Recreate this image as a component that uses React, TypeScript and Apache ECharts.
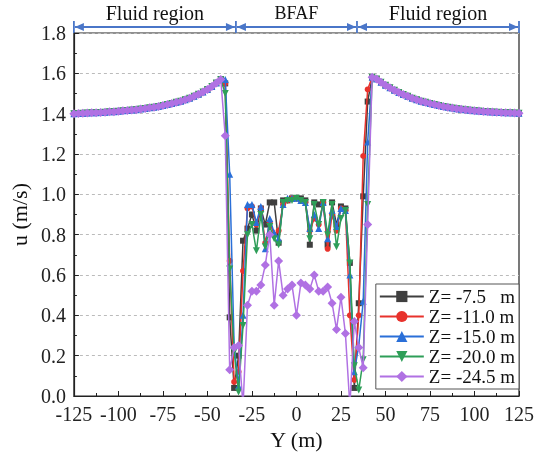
import React, { useEffect, useRef } from "react";
import * as echarts from "echarts";

const FONT = "Liberation Serif";

// Sampling positions (m)
const POS_LEFT = [-125, -122.5, -120, -117.5, -115, -112.5, -110, -107.5, -105, -102.5, -100, -97.5, -95, -92.5, -90, -87.5, -85, -82.5, -80, -77.5, -75, -72.5, -70, -67.5, -65, -62.5, -60, -57.5, -55, -52.5, -50, -47.5, -45, -42.5];
const POS_BFAF = [-40, -37.5, -35, -32.5, -30, -27.5, -25, -22.5, -20, -17.5, -15, -12.5, -10, -7.5, -5, -2.5, 0, 2.5, 5, 7.5, 10, 12.5, 15, 17.5, 20, 22.5, 25, 27.5, 30, 32.5, 35, 37.5, 40];
const POS_RIGHT = [42.5, 45, 47.5, 50, 52.5, 55, 57.5, 60, 62.5, 65, 67.5, 70, 72.5, 75, 77.5, 80, 82.5, 85, 87.5, 90, 92.5, 95, 97.5, 100, 102.5, 105, 107.5, 110, 112.5, 115, 117.5, 120, 122.5, 125];

// Fluid-region velocities (shared by all depths)
const FLUID_LEFT = [1.400, 1.401, 1.402, 1.403, 1.404, 1.405, 1.406, 1.407, 1.409, 1.410, 1.412, 1.414, 1.416, 1.418, 1.420, 1.423, 1.426, 1.429, 1.432, 1.436, 1.440, 1.445, 1.450, 1.456, 1.462, 1.469, 1.477, 1.486, 1.496, 1.507, 1.520, 1.535, 1.552, 1.570];
const FLUID_RIGHT = [1.580, 1.572, 1.556, 1.541, 1.528, 1.516, 1.505, 1.495, 1.486, 1.477, 1.469, 1.462, 1.456, 1.450, 1.445, 1.440, 1.436, 1.432, 1.428, 1.425, 1.422, 1.419, 1.417, 1.415, 1.413, 1.411, 1.409, 1.408, 1.407, 1.406, 1.405, 1.404, 1.403, 1.402];

// BFAF-region velocities per depth
const BFAF_Z75 = [1.55, 0.39, 0.04, 0.20, 0.77, 0.83, 0.90, 0.82, 0.93, 0.85, 0.96, 0.96, 0.76, 0.97, 0.97, 0.98, 0.98, 0.98, 0.97, 0.75, 0.96, 0.95, 0.96, 0.75, 0.96, 0.85, 0.94, 0.93, 0.66, 0.04, 0.46, 0.99, 1.46];
const BFAF_Z110 = [1.55, 0.67, 0.07, 0.12, 0.62, 0.93, 0.94, 0.85, 0.93, 0.76, 0.86, 0.80, 0.82, 0.95, 0.97, 0.98, 0.98, 0.97, 0.96, 0.82, 0.88, 0.85, 0.96, 0.73, 0.90, 0.82, 0.93, 0.92, 0.40, 0.08, 0.40, 1.19, 1.52];
const BFAF_Z150 = [1.57, 1.10, 0.25, 0.05, 0.40, 0.95, 0.95, 0.86, 0.94, 0.73, 0.88, 0.81, 0.78, 0.95, 0.98, 0.98, 0.98, 0.97, 0.96, 0.83, 0.90, 0.83, 0.96, 0.78, 0.92, 0.84, 0.93, 0.92, 0.60, 0.12, 0.25, 0.47, 1.26];
const BFAF_Z200 = [1.50, 0.63, 0.22, 0.02, 0.35, 0.80, 0.85, 0.72, 0.90, 0.74, 0.84, 0.78, 0.75, 0.96, 0.97, 0.97, 0.98, 0.97, 0.96, 0.78, 0.95, 0.85, 0.96, 0.80, 0.95, 0.74, 0.88, 0.92, 0.66, 0.15, 0.03, 0.18, 0.95];
const BFAF_Z245 = [1.29, 0.13, 0.24, 0.25, -0.05, 0.45, 0.52, 0.52, 0.55, 0.65, 0.80, 0.45, 0.67, 0.50, 0.53, 0.55, 0.40, 0.56, 0.55, 0.53, 0.60, 0.52, 0.52, 0.54, 0.46, 0.33, 0.49, 0.31, -0.05, 0.37, 0.24, 0.14, 0.85];

const SERIES_NAMES = ["Z= -7.5\u00a0\u00a0 m", "Z= -11.0 m", "Z= -15.0 m", "Z= -20.0 m", "Z= -24.5 m"];
const SERIES_BFAF = [BFAF_Z75, BFAF_Z110, BFAF_Z150, BFAF_Z200, BFAF_Z245];
const COLORS = ["#3f3f3f", "#e8322c", "#2a6fd8", "#2e9e58", "#b071e3"];
const SYMBOLS = ["rect", "circle", "triangle", "triangle", "diamond"];
const SYMBOL_ROT = [0, 0, 0, 180, 0];
const SYMBOL_SIZE = [6, 6, 7, 7, 9];

// Annotation bands
const BOUNDS = [-125, -34, 34, 125];
const REGION_LABELS = ["Fluid region", "BFAF", "Fluid region"];

const X_TICKS = { min: -125, max: 125, interval: 25 };
const Y_TICKS = { min: 0, max: 1.8, interval: 0.2 };

function buildData(bfaf: number[]) {
  const out: number[][] = [];
  POS_LEFT.forEach((p, i) => out.push([p, FLUID_LEFT[i]]));
  POS_BFAF.forEach((p, i) => out.push([p, bfaf[i]]));
  POS_RIGHT.forEach((p, i) => out.push([p, FLUID_RIGHT[i]]));
  return out;
}

export default function App() {
  const ref = useRef<HTMLDivElement>(null);
  useEffect(() => {
    if (!ref.current) return;
    const chart = echarts.init(ref.current, null, { renderer: "svg" });
    const axisColor = "#222";
    const option: any = {
      animation: false,
      textStyle: { fontFamily: FONT },
      grid: { left: 70, right: 18, top: 33, bottom: 61, show: true, borderColor: axisColor, borderWidth: 1.2, backgroundColor: "transparent" },
      xAxis: {
        type: "value",
        min: X_TICKS.min,
        max: X_TICKS.max,
        interval: X_TICKS.interval,
        name: "Y (m)",
        nameLocation: "middle",
        nameGap: 30,
        nameTextStyle: { fontSize: 22, color: "#111", fontFamily: FONT },
        axisLine: { onZero: false, lineStyle: { color: axisColor, width: 1.2 } },
        axisTick: { inside: true, length: 5, lineStyle: { color: axisColor } },
        minorTick: { show: true, splitNumber: 2, length: 3, lineStyle: { color: axisColor } },
        axisLabel: { fontSize: 20, color: "#222", margin: 8, fontFamily: FONT },
        splitLine: { show: false },
      },
      yAxis: {
        type: "value",
        min: Y_TICKS.min,
        max: Y_TICKS.max,
        interval: Y_TICKS.interval,
        name: "u (m/s)",
        nameLocation: "middle",
        nameGap: 42,
        nameTextStyle: { fontSize: 22, color: "#111", fontFamily: FONT },
        axisLine: { onZero: false, lineStyle: { color: axisColor, width: 1.2 } },
        axisTick: { inside: true, length: 5, lineStyle: { color: axisColor } },
        minorTick: { show: true, splitNumber: 2, length: 3, lineStyle: { color: axisColor } },
        axisLabel: { fontSize: 20, color: "#222", margin: 8, fontFamily: FONT, formatter: (v: number) => v.toFixed(1) },
        splitLine: { show: true, lineStyle: { color: "#bbb", type: [3, 3], width: 1 } },
      },
      legend: {
        orient: "vertical",
        right: 18,
        top: 284,
        padding: [3, 4, 3, 3],
        itemGap: 1,
        itemWidth: 44,
        itemHeight: 14,
        backgroundColor: "#fff",
        borderColor: "#555",
        borderWidth: 1,
        textStyle: { fontSize: 19, color: "#111", fontFamily: FONT },
        data: SERIES_NAMES,
      },
      series: SERIES_NAMES.map((name, i) => ({
        name,
        type: "line",
        data: buildData(SERIES_BFAF[i]),
        symbol: SYMBOLS[i],
        symbolSize: SYMBOL_SIZE[i],
        symbolRotate: SYMBOL_ROT[i],
        showAllSymbol: true,
        clip: true,
        lineStyle: { color: COLORS[i], width: 1.5 },
        itemStyle: { color: COLORS[i] },
        z: 2 + i,
      })),
    };
    chart.setOption(option);

    const topY = chart.convertToPixel({ yAxisIndex: 0 }, Y_TICKS.max) as number;
    const ay = topY - 6;
    const blue = "#4a76c8";
    const xs = BOUNDS.map((b) => chart.convertToPixel({ xAxisIndex: 0 }, b) as number);
    const elems: any[] = [];
    xs.forEach((x) => {
      elems.push({ type: "line", shape: { x1: x, y1: ay - 6, x2: x, y2: ay + 6 }, style: { stroke: blue, lineWidth: 1.8 } });
    });
    for (let i = 0; i < xs.length - 1; i++) {
      const x0 = xs[i] + 1;
      const x1 = xs[i + 1] - 1;
      elems.push({ type: "line", shape: { x1: x0, y1: ay, x2: x1, y2: ay }, style: { stroke: blue, lineWidth: 2 } });
      elems.push({ type: "polygon", shape: { points: [[x0, ay], [x0 + 9, ay - 4], [x0 + 9, ay + 4]] }, style: { fill: blue } });
      elems.push({ type: "polygon", shape: { points: [[x1, ay], [x1 - 9, ay - 4], [x1 - 9, ay + 4]] }, style: { fill: blue } });
      elems.push({
        type: "text",
        x: (xs[i] + xs[i + 1]) / 2,
        y: ay - 14,
        style: {
          text: REGION_LABELS[i],
          fontSize: i === 1 ? 18 : 20,
          fontFamily: FONT,
          fill: "#111",
          align: "center",
          verticalAlign: "middle",
        },
      });
    }
    chart.setOption({ graphic: { elements: elems } });

    return () => chart.dispose();
  }, []);
  return <div ref={ref} style={{ position: "fixed", left: 0, top: 0, width: 537, height: 457 }} />;
}
